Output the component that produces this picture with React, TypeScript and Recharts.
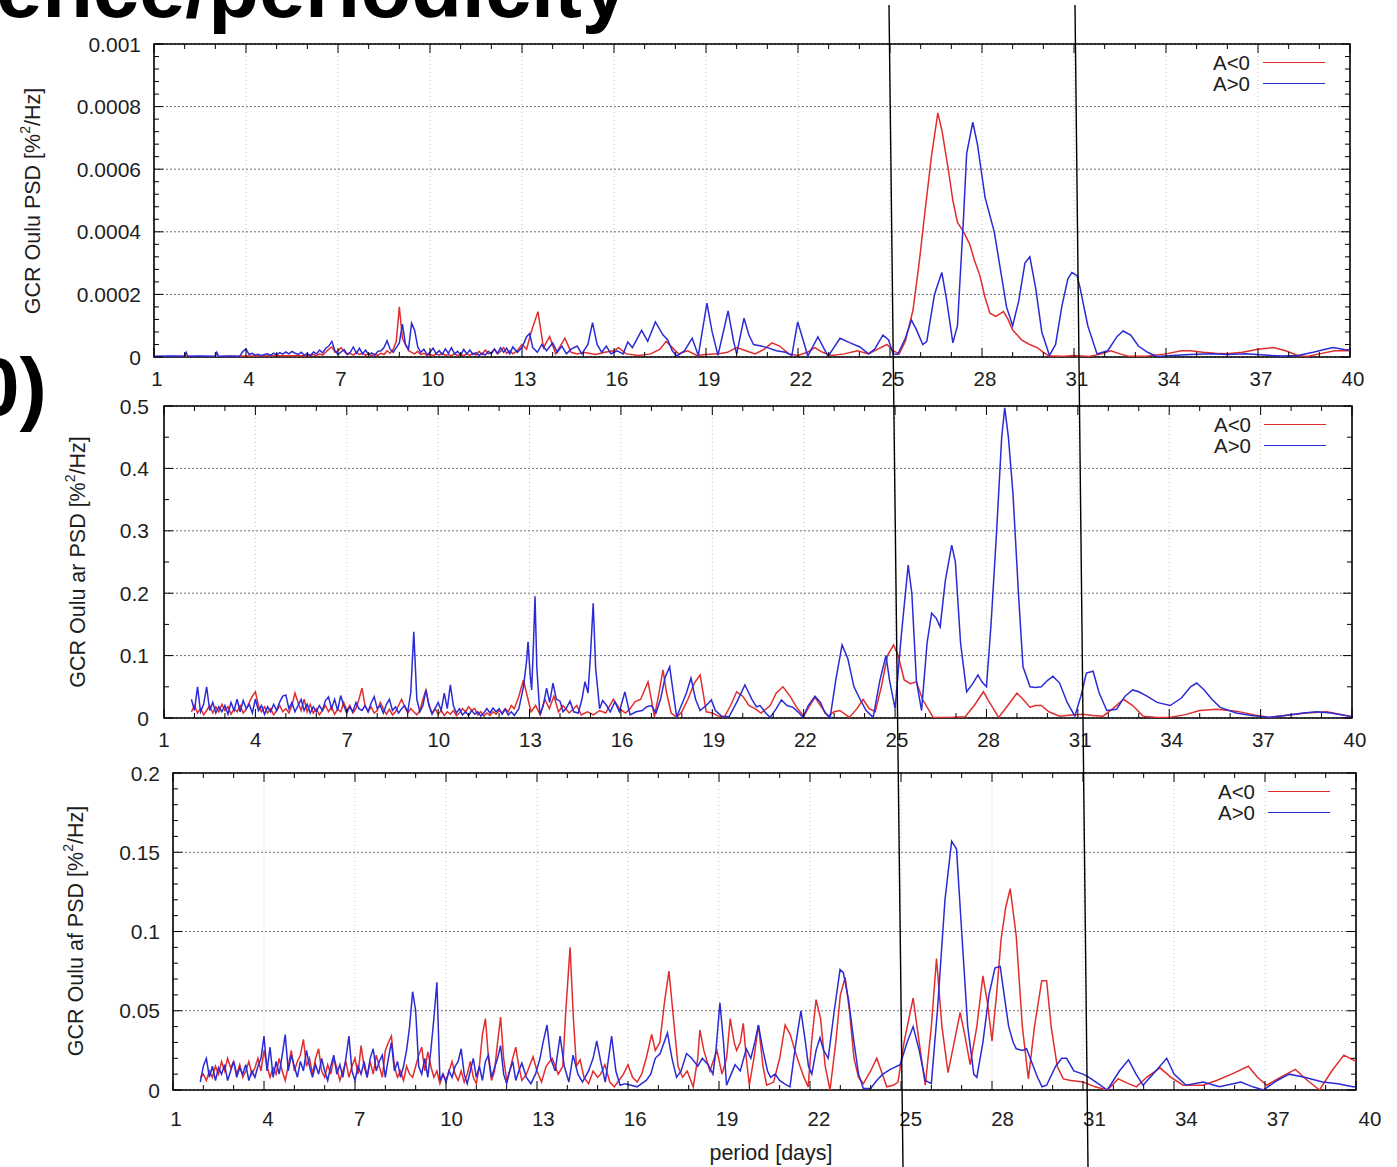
import React from "react";
import { LineChart, Line, XAxis, YAxis, CartesianGrid, ReferenceArea, Legend } from "recharts";

const FONT = '"Liberation Sans", Arial, Helvetica, sans-serif';
const RED = "#e22d2d";
const BLUE = "#2b2bd6";
const INK = "#1e1e1e";

type Pt = [number, number];

// x axis (period in days) and y axis tick labels
const periodTicks = [1, 4, 7, 10, 13, 16, 19, 22, 25, 28, 31, 34, 37, 40];
const psdTicks = [0, 0.0002, 0.0004, 0.0006, 0.0008, 0.001];
const arTicks = [0, 0.1, 0.2, 0.3, 0.4, 0.5];
const afTicks = [0, 0.05, 0.1, 0.15, 0.2];

// ---- panel 1: GCR Oulu PSD, values in units of 1e-5 ----
const psdBlueHead: Pt[] = [[1, 0.2], [1.5, 0.3], [2.0, 0.2], [2.05, 1.5], [2.1, 0.2], [2.5, 0.3], [3.0, 0.2], [3.05, 1.5], [3.1, 0.2], [3.5, 0.3], [3.7, 0.2]];
// every 0.1 day from 3.8
const psdBlueNoise = [
  0.3, 1.8, 2.5, 0.8, 1.2, 0.6, 0.9, 0.4, 0.8, 1.0,
  0.5, 1.2, 0.7, 1.4, 0.9, 1.6, 1.0, 1.8, 1.2, 0.8,
  1.5, 0.6, 1.1, 0.5, 1.6, 1.0, 2.2, 1.3, 2.8, 3.5,
  5.0, 2.0, 0.8, 1.6, 2.4, 0.9, 1.5, 3.2, 1.2, 2.8,
  1.0, 2.2, 0.7, 1.3, 0.6, 1.8, 2.0, 3.0, 5.2, 2.5,
  1.5, 3.0, 4.5, 10.5, 4.0, 2.5, 10.8, 8.5, 3.2, 1.5,
  2.5, 0.8, 1.5, 2.8, 1.0, 2.0, 0.8, 2.6, 1.2, 3.0,
  1.0, 1.8, 0.6, 2.4, 1.0, 2.2, 0.8, 1.4, 0.5, 1.2,
  0.6, 1.8, 1.0, 2.5, 1.2, 3.0, 1.5, 2.8, 1.0, 3.2,
];
const psdBlueTail: Pt[] = [
  [12.85, 1.5], [13.0, 3.0], [13.15, 6.5], [13.25, 7.5], [13.35, 3.0], [13.5, 1.5], [13.65, 4.0], [13.8, 2.0], [14.0, 4.5], [14.15, 1.5],
  [14.3, 3.5], [14.45, 1.0], [14.6, 2.5], [14.8, 3.5], [14.95, 1.0], [15.15, 4.0], [15.3, 11.0], [15.45, 4.0], [15.6, 1.5], [15.75, 3.5],
  [15.9, 1.0], [16.1, 2.0], [16.3, 1.0], [16.45, 4.8], [16.6, 3.0], [16.9, 8.5], [17.1, 5.0], [17.35, 11.2], [17.6, 7.0], [17.75, 5.5],
  [17.9, 2.0], [18.05, 0.3], [18.3, 2.0], [18.55, 6.0], [18.75, 0.5], [19.03, 17.2], [19.2, 8.0], [19.39, 0.5], [19.72, 14.7], [19.9, 5.0],
  [20.0, 1.0], [20.24, 12.4], [20.4, 7.0], [20.55, 4.0], [20.8, 3.5], [21.0, 3.0], [21.3, 2.0], [21.6, 1.5], [21.8, 0.5], [21.99, 11.2],
  [22.15, 6.0], [22.32, 0.3], [22.65, 6.4], [22.98, 0.2], [23.37, 6.0], [23.7, 4.5], [24.02, 3.2], [24.3, 1.0], [24.5, 2.5], [24.77, 7.0],
  [24.95, 5.5], [25.1, 1.0], [25.25, 0.8], [25.5, 6.0], [25.7, 11.8], [25.85, 9.0], [26.07, 4.0], [26.2, 5.0], [26.45, 20], [26.69, 27],
  [26.85, 18], [27.05, 4.5], [27.2, 10], [27.4, 45], [27.5, 65], [27.7, 75], [27.85, 68], [28.1, 51], [28.4, 40], [28.6, 28],
  [28.8, 16], [29.0, 10], [29.2, 18], [29.4, 30], [29.56, 32], [29.75, 22], [29.95, 8], [30.2, 0.5], [30.4, 4], [30.6, 16],
  [30.8, 25], [30.93, 27], [31.1, 26], [31.2, 22], [31.45, 10], [31.75, 1.0], [32.1, 2.0], [32.4, 6.5], [32.6, 8.3], [32.85, 7.0],
  [33.1, 3.5], [33.4, 1.5], [33.7, 0.2], [34.2, 0.5], [34.8, 0.8], [35.5, 1.0], [36.0, 0.8], [36.6, 1.0], [37.2, 0.6], [37.8, 0.3],
  [38.3, 0.5], [38.8, 1.5], [39.2, 2.5], [39.45, 3.0], [39.8, 2.4], [40, 2.2],
];
const psdRedHead: Pt[] = [[1, 0.1], [2, 0.2], [3, 0.1], [4, 0.3], [5, 0.4], [5.9, 0.4]];
// every 0.1 day from 6.0
const psdRedNoise = [
  0.3, 0.5, 0.8, 0.4, 1.0, 0.6, 1.5, 2.5, 3.2, 1.5,
  2.0, 3.0, 1.8, 0.8, 1.2, 0.6, 1.5, 0.8, 1.2, 0.5,
  1.0, 0.4, 0.9, 0.5, 1.2, 0.8, 2.0, 1.2, 2.5, 5.0,
  16.0, 6.0, 4.0, 2.0, 1.5, 1.0, 1.8, 0.8, 1.2, 0.5,
  0.9, 0.4, 1.0, 0.6, 1.2, 0.5, 0.8, 0.4, 1.0, 0.5,
  0.8, 0.4, 1.0, 0.5, 1.2, 0.6, 1.8, 0.8, 2.2, 1.0,
  1.5, 2.5, 1.0, 1.8, 3.0, 1.2, 2.0, 1.0,
];
const psdRedTail: Pt[] = [
  [12.85, 2.0], [13.0, 4.0], [13.15, 2.5], [13.3, 8.0], [13.52, 14.5], [13.7, 3.0], [13.9, 6.5], [14.1, 1.0], [14.4, 6.0], [14.6, 1.5],
  [14.8, 1.0], [15.0, 1.5], [15.4, 0.8], [15.7, 1.5], [16.0, 2.0], [16.15, 3.0], [16.4, 1.0], [16.8, 0.5], [17.2, 1.0], [17.5, 2.5],
  [17.7, 5.0], [17.9, 3.0], [18.1, 1.0], [18.4, 2.0], [18.7, 0.5], [19.0, 0.8], [19.4, 1.0], [19.7, 1.5], [20.0, 3.0], [20.3, 2.0],
  [20.6, 1.0], [20.9, 2.5], [21.15, 4.5], [21.4, 3.5], [21.7, 1.0], [22.0, 0.5], [22.3, 1.5], [22.55, 3.0], [22.8, 1.5], [23.1, 0.5],
  [23.5, 1.0], [23.95, 2.0], [24.3, 1.0], [24.6, 2.5], [24.9, 4.0], [25.1, 2.0], [25.3, 1.0], [25.5, 5.0], [25.75, 15], [25.95, 30],
  [26.1, 43], [26.35, 64], [26.56, 78], [26.7, 72], [26.9, 60], [27.05, 50], [27.2, 43], [27.4, 40], [27.6, 36], [27.75, 31],
  [27.93, 26], [28.1, 19], [28.26, 14], [28.45, 13], [28.7, 14.5], [28.85, 12], [29.0, 8.6], [29.3, 5.4], [29.55, 4.0], [29.8, 3.0],
  [30.0, 1.5], [30.2, 0.3], [30.6, 0.2], [31.0, 0.5], [31.5, 0.2], [31.9, 1.0], [32.2, 2.0], [32.5, 1.0], [32.8, 0.2], [33.4, 0.3],
  [34.0, 1.0], [34.5, 2.0], [34.8, 2.0], [35.2, 1.5], [35.6, 1.2], [36.0, 1.0], [36.5, 1.5], [37.0, 2.5], [37.5, 3.0], [37.9, 2.0],
  [38.3, 0.5], [38.6, 0.2], [39.0, 1.0], [39.5, 2.0], [40, 2.0],
];

// ---- panel 2: GCR Oulu ar PSD ----
// every 0.1 day from 1.9
const arBlueNoise = [
  0.030, 0.012, 0.050, 0.010, 0.022, 0.050, 0.012, 0.025, 0.008, 0.018,
  0.010, 0.020, 0.006, 0.025, 0.012, 0.030, 0.010, 0.028, 0.015, 0.022,
  0.008, 0.030, 0.012, 0.020, 0.006, 0.018, 0.010, 0.022, 0.012, 0.026,
  0.035, 0.037, 0.015, 0.025, 0.010, 0.020, 0.030, 0.012, 0.022, 0.008,
  0.018, 0.010, 0.020, 0.012, 0.028, 0.034, 0.015, 0.030, 0.012, 0.036,
  0.020, 0.008, 0.018, 0.010, 0.025, 0.015, 0.012, 0.020, 0.010, 0.024,
  0.034, 0.015, 0.020, 0.008, 0.022, 0.030, 0.012, 0.018, 0.008, 0.015,
  0.020, 0.010, 0.040, 0.138, 0.030, 0.010, 0.020, 0.045, 0.020, 0.006,
  0.015, 0.025, 0.012, 0.040, 0.015, 0.053, 0.020, 0.008, 0.015, 0.005,
  0.010, 0.004, 0.012, 0.006, 0.010, 0.003, 0.008, 0.015, 0.008, 0.016,
  0.010, 0.015, 0.006, 0.014, 0.005, 0.010, 0.004,
];
const arBlueTail: Pt[] = [
  [12.65, 0.015], [12.8, 0.05], [12.9, 0.09], [12.95, 0.122], [13.02, 0.07], [13.07, 0.045], [13.13, 0.12], [13.18, 0.195], [13.24, 0.08], [13.34, 0.005],
  [13.45, 0.02], [13.56, 0.048], [13.66, 0.025], [13.77, 0.056], [13.88, 0.03], [14.0, 0.027], [14.1, 0.01], [14.2, 0.015], [14.33, 0.027], [14.45, 0.01],
  [14.6, 0.008], [14.72, 0.03], [14.82, 0.058], [14.92, 0.04], [15.0, 0.1], [15.09, 0.184], [15.17, 0.08], [15.3, 0.015], [15.4, 0.028], [15.53, 0.02],
  [15.65, 0.01], [15.8, 0.026], [15.95, 0.01], [16.13, 0.042], [16.3, 0.005], [16.5, 0.01], [16.7, 0.012], [16.85, 0.018], [17.0, 0.02], [17.15, 0.008],
  [17.3, 0.03], [17.45, 0.065], [17.6, 0.082], [17.72, 0.04], [17.83, 0.002], [18.0, 0.022], [18.15, 0.04], [18.3, 0.064], [18.45, 0.03], [18.6, 0.012],
  [18.8, 0.02], [18.97, 0.029], [19.1, 0.012], [19.3, 0.003], [19.55, 0.002], [19.8, 0.025], [20.07, 0.053], [20.2, 0.04], [20.3, 0.03], [20.45, 0.018],
  [20.57, 0.02], [20.75, 0.008], [20.9, 0.001], [21.1, 0.015], [21.27, 0.029], [21.45, 0.02], [21.65, 0.017], [21.85, 0.008], [21.98, 0.001], [22.15, 0.02],
  [22.37, 0.035], [22.55, 0.025], [22.7, 0.008], [22.87, 0.001], [23.05, 0.06], [23.26, 0.117], [23.45, 0.095], [23.65, 0.05], [23.85, 0.03], [24.05, 0.012],
  [24.28, 0.001], [24.5, 0.06], [24.7, 0.1], [24.82, 0.06], [25.0, 0.015], [25.2, 0.13], [25.43, 0.245], [25.55, 0.2], [25.7, 0.06], [25.87, 0.012],
  [26.05, 0.12], [26.2, 0.168], [26.35, 0.16], [26.48, 0.146], [26.65, 0.22], [26.86, 0.277], [26.98, 0.25], [27.15, 0.12], [27.35, 0.042], [27.55, 0.055],
  [27.72, 0.069], [27.85, 0.058], [28.0, 0.05], [28.15, 0.15], [28.33, 0.296], [28.5, 0.45], [28.6, 0.497], [28.72, 0.45], [28.87, 0.36], [29.05, 0.2],
  [29.2, 0.082], [29.43, 0.05], [29.6, 0.049], [29.8, 0.05], [30.0, 0.06], [30.18, 0.067], [30.4, 0.056], [30.65, 0.025], [30.9, 0.003], [31.1, 0.035],
  [31.28, 0.072], [31.5, 0.075], [31.7, 0.04], [31.95, 0.012], [32.27, 0.014], [32.55, 0.035], [32.8, 0.045], [33.0, 0.042], [33.27, 0.035], [33.6, 0.025],
  [34.03, 0.02], [34.4, 0.032], [34.7, 0.05], [34.9, 0.056], [35.15, 0.045], [35.4, 0.03], [35.67, 0.017], [36.2, 0.008], [36.7, 0.004], [37.3, 0.001],
  [37.8, 0.004], [38.4, 0.008], [38.84, 0.01], [39.3, 0.008], [39.9, 0.003], [40, 0.002],
];
const arRedNoise = [
  0.010, 0.020, 0.008, 0.015, 0.005, 0.012, 0.020, 0.008, 0.018, 0.010,
  0.022, 0.012, 0.018, 0.006, 0.015, 0.010, 0.020, 0.008, 0.014, 0.025,
  0.035, 0.042, 0.020, 0.010, 0.018, 0.008, 0.015, 0.005, 0.012, 0.020,
  0.010, 0.015, 0.008, 0.020, 0.040, 0.025, 0.012, 0.030, 0.010, 0.022,
  0.008, 0.015, 0.005, 0.012, 0.020, 0.010, 0.018, 0.006, 0.014, 0.010,
  0.025, 0.012, 0.020, 0.008, 0.015, 0.030, 0.048, 0.020, 0.010, 0.018,
  0.008, 0.012, 0.025, 0.015, 0.006, 0.014, 0.005, 0.010, 0.020, 0.030,
  0.018, 0.008, 0.015, 0.010, 0.005, 0.012, 0.030, 0.045, 0.020, 0.008,
  0.015, 0.006, 0.012, 0.004, 0.010, 0.006, 0.012, 0.004, 0.008, 0.015,
  0.010, 0.018, 0.012, 0.015, 0.005, 0.010, 0.003, 0.008, 0.004, 0.010,
  0.006, 0.012, 0.008, 0.015, 0.010, 0.020, 0.015,
];
const arRedTail: Pt[] = [
  [12.65, 0.035], [12.8, 0.061], [12.9, 0.04], [13.05, 0.01], [13.2, 0.02], [13.35, 0.005], [13.5, 0.03], [13.65, 0.015], [13.8, 0.035], [13.95, 0.01],
  [14.1, 0.02], [14.3, 0.008], [14.55, 0.02], [14.7, 0.005], [14.9, 0.01], [15.1, 0.005], [15.3, 0.012], [15.5, 0.008], [15.75, 0.03], [15.95, 0.015],
  [16.15, 0.008], [16.3, 0.015], [16.46, 0.026], [16.65, 0.03], [16.89, 0.058], [17.0, 0.03], [17.1, 0.002], [17.25, 0.04], [17.38, 0.077], [17.5, 0.04],
  [17.65, 0.008], [17.83, 0.001], [18.0, 0.01], [18.2, 0.03], [18.4, 0.055], [18.6, 0.069], [18.7, 0.04], [18.8, 0.01], [19.0, 0.008], [19.2, 0.003],
  [19.4, 0.002], [19.6, 0.02], [19.8, 0.042], [20.0, 0.035], [20.2, 0.02], [20.4, 0.015], [20.6, 0.008], [20.9, 0.02], [21.1, 0.04], [21.32, 0.05],
  [21.55, 0.035], [21.77, 0.017], [22.0, 0.003], [22.2, 0.02], [22.37, 0.033], [22.55, 0.02], [22.8, 0.003], [23.0, 0.01], [23.19, 0.012], [23.5, 0.001],
  [23.75, 0.015], [23.95, 0.03], [24.15, 0.015], [24.35, 0.01], [24.55, 0.05], [24.75, 0.1], [24.95, 0.117], [25.1, 0.1], [25.3, 0.061], [25.5, 0.055],
  [25.7, 0.058], [25.9, 0.03], [26.25, 0.001], [26.8, 0.001], [27.3, 0.002], [27.6, 0.02], [27.9, 0.042], [28.1, 0.025], [28.4, 0.001], [28.7, 0.02],
  [29.0, 0.04], [29.2, 0.03], [29.43, 0.017], [29.6, 0.02], [29.8, 0.02], [30.05, 0.01], [30.4, 0.003], [30.8, 0.005], [31.17, 0.006], [31.5, 0.004],
  [31.83, 0.003], [32.15, 0.015], [32.5, 0.03], [32.8, 0.02], [33.14, 0.003], [33.6, 0.001], [34.0, 0.001], [34.5, 0.005], [35.0, 0.012], [35.55, 0.014],
  [36.2, 0.011], [36.8, 0.005], [37.3, 0.001], [37.8, 0.004], [38.5, 0.008], [39.17, 0.01], [39.6, 0.006], [40, 0.002],
];

// ---- panel 3: GCR Oulu af PSD ----
const afBlueNoise = [
  0.005, 0.015, 0.020, 0.008, 0.015, 0.006, 0.014, 0.010, 0.016, 0.006,
  0.012, 0.018, 0.008, 0.014, 0.010, 0.016, 0.006, 0.012, 0.008, 0.015,
  0.020, 0.034, 0.012, 0.027, 0.008, 0.018, 0.010, 0.022, 0.035, 0.012,
  0.022, 0.015, 0.008, 0.018, 0.012, 0.025, 0.015, 0.008, 0.016, 0.010,
  0.020, 0.012, 0.006, 0.015, 0.022, 0.010, 0.016, 0.008, 0.020, 0.034,
  0.012, 0.006, 0.015, 0.010, 0.018, 0.008, 0.020, 0.026, 0.012, 0.018,
  0.022, 0.008, 0.020, 0.030, 0.012, 0.018, 0.008, 0.015, 0.025, 0.040,
  0.062, 0.050, 0.015, 0.010, 0.020, 0.008, 0.025, 0.045, 0.068, 0.006,
  0.010, 0.005, 0.012, 0.008, 0.015, 0.018, 0.026, 0.010, 0.004, 0.012,
  0.020, 0.008, 0.015, 0.006, 0.018, 0.022, 0.008, 0.014, 0.020, 0.028,
  0.010, 0.004, 0.012, 0.018, 0.006, 0.012, 0.017,
];
const afBlueTail: Pt[] = [
  [12.65, 0.008], [12.8, 0.004], [12.95, 0.01], [13.1, 0.02], [13.2, 0.03], [13.33, 0.041], [13.45, 0.02], [13.6, 0.012], [13.76, 0.034], [13.9, 0.015],
  [14.05, 0.005], [14.19, 0.022], [14.35, 0.01], [14.5, 0.005], [14.7, 0.012], [14.85, 0.02], [14.97, 0.031], [15.1, 0.018], [15.25, 0.005], [15.46, 0.034],
  [15.6, 0.012], [15.74, 0.003], [15.9, 0.004], [16.1, 0.003], [16.3, 0.002], [16.45, 0.004], [16.6, 0.006], [16.75, 0.01], [16.9, 0.02], [17.06, 0.023],
  [17.3, 0.036], [17.45, 0.02], [17.6, 0.008], [17.75, 0.012], [17.93, 0.023], [18.1, 0.02], [18.3, 0.015], [18.45, 0.02], [18.64, 0.016], [18.8, 0.01],
  [18.9, 0.025], [19.03, 0.055], [19.15, 0.03], [19.25, 0.003], [19.4, 0.01], [19.53, 0.016], [19.7, 0.012], [19.9, 0.026], [20.05, 0.02], [20.18, 0.03],
  [20.3, 0.041], [20.45, 0.025], [20.6, 0.012], [20.7, 0.008], [20.85, 0.01], [21.0, 0.006], [21.15, 0.004], [21.34, 0.002], [21.5, 0.025], [21.7, 0.05],
  [21.85, 0.03], [21.95, 0.015], [22.06, 0.01], [22.2, 0.025], [22.33, 0.033], [22.45, 0.025], [22.6, 0.02], [22.8, 0.05], [22.99, 0.076], [23.1, 0.074],
  [23.27, 0.057], [23.45, 0.03], [23.6, 0.01], [23.76, 0.001], [24.0, 0.001], [24.2, 0.006], [24.4, 0.01], [24.65, 0.013], [24.97, 0.016], [25.2, 0.03],
  [25.4, 0.04], [25.6, 0.025], [25.8, 0.006], [26.0, 0.004], [26.2, 0.05], [26.45, 0.12], [26.67, 0.157], [26.83, 0.152], [27.0, 0.1], [27.2, 0.04],
  [27.4, 0.01], [27.5, 0.008], [27.7, 0.03], [27.9, 0.06], [28.1, 0.077], [28.27, 0.078], [28.4, 0.06], [28.55, 0.04], [28.7, 0.03], [28.8, 0.026],
  [29.0, 0.025], [29.14, 0.026], [29.3, 0.018], [29.5, 0.008], [29.65, 0.002], [29.8, 0.003], [30.1, 0.015], [30.3, 0.02], [30.46, 0.02], [30.7, 0.012],
  [31.0, 0.01], [31.2, 0.008], [31.5, 0.004], [31.8, 0.0], [32.2, 0.012], [32.5, 0.019], [32.75, 0.01], [32.98, 0.003], [33.4, 0.012], [33.76, 0.02],
  [34.0, 0.01], [34.4, 0.003], [34.96, 0.005], [35.5, 0.002], [36.2, 0.005], [36.6, 0.002], [36.94, 0.0], [37.4, 0.006], [37.8, 0.01], [38.3, 0.008],
  [38.9, 0.005], [39.4, 0.004], [39.9, 0.002], [40, 0.002],
];
const afRedNoise = [
  0.008, 0.010, 0.006, 0.012, 0.008, 0.015, 0.010, 0.018, 0.012, 0.020,
  0.014, 0.018, 0.010, 0.016, 0.008, 0.012, 0.018, 0.010, 0.014, 0.020,
  0.012, 0.025, 0.015, 0.008, 0.014, 0.010, 0.020, 0.012, 0.006, 0.015,
  0.025, 0.012, 0.018, 0.022, 0.032, 0.015, 0.020, 0.010, 0.020, 0.026,
  0.012, 0.008, 0.016, 0.010, 0.020, 0.014, 0.006, 0.012, 0.018, 0.008,
  0.015, 0.020, 0.010, 0.028, 0.015, 0.008, 0.018, 0.010, 0.022, 0.015,
  0.008, 0.025, 0.030, 0.034, 0.015, 0.008, 0.012, 0.006, 0.015, 0.010,
  0.008, 0.015, 0.022, 0.027, 0.012, 0.024, 0.015, 0.008, 0.012, 0.004,
  0.010, 0.006, 0.012, 0.018, 0.010, 0.006, 0.012, 0.005, 0.010, 0.018,
  0.008, 0.004, 0.015, 0.035, 0.045, 0.020, 0.006, 0.012, 0.030, 0.046,
  0.020, 0.006, 0.012, 0.020, 0.027, 0.015, 0.006,
];
const afRedTail: Pt[] = [
  [12.65, 0.01], [12.87, 0.021], [13.0, 0.012], [13.15, 0.005], [13.3, 0.015], [13.5, 0.02], [13.7, 0.01], [13.85, 0.015], [13.95, 0.05], [14.09, 0.09],
  [14.2, 0.045], [14.3, 0.015], [14.42, 0.019], [14.55, 0.008], [14.7, 0.004], [14.85, 0.012], [15.0, 0.008], [15.1, 0.01], [15.24, 0.016], [15.4, 0.005],
  [15.55, 0.002], [15.7, 0.006], [15.85, 0.01], [16.0, 0.016], [16.15, 0.008], [16.3, 0.005], [16.45, 0.01], [16.6, 0.02], [16.78, 0.035], [16.9, 0.025],
  [17.05, 0.03], [17.2, 0.055], [17.35, 0.075], [17.5, 0.045], [17.65, 0.015], [17.8, 0.008], [17.95, 0.012], [18.15, 0.002], [18.3, 0.02], [18.37, 0.038],
  [18.5, 0.025], [18.7, 0.012], [18.93, 0.025], [19.1, 0.01], [19.25, 0.02], [19.37, 0.045], [19.5, 0.03], [19.58, 0.025], [19.7, 0.03], [19.8, 0.042],
  [19.9, 0.02], [20.0, 0.003], [20.15, 0.02], [20.3, 0.041], [20.45, 0.015], [20.57, 0.003], [20.8, 0.005], [21.0, 0.02], [21.18, 0.041], [21.35, 0.035],
  [21.5, 0.025], [21.67, 0.015], [21.8, 0.008], [21.94, 0.002], [22.05, 0.03], [22.2, 0.057], [22.35, 0.045], [22.5, 0.015], [22.66, 0.0], [22.85, 0.03],
  [23.0, 0.06], [23.16, 0.071], [23.3, 0.05], [23.45, 0.02], [23.6, 0.008], [23.76, 0.004], [24.0, 0.012], [24.2, 0.02], [24.35, 0.012], [24.53, 0.002],
  [24.75, 0.003], [24.9, 0.005], [25.1, 0.03], [25.4, 0.058], [25.6, 0.03], [25.8, 0.003], [26.0, 0.04], [26.17, 0.083], [26.35, 0.04], [26.55, 0.011],
  [26.7, 0.025], [26.95, 0.049], [27.1, 0.035], [27.28, 0.016], [27.5, 0.04], [27.7, 0.072], [27.85, 0.055], [28.0, 0.031], [28.15, 0.06], [28.3, 0.095],
  [28.45, 0.115], [28.6, 0.127], [28.8, 0.097], [29.0, 0.04], [29.2, 0.007], [29.4, 0.04], [29.64, 0.069], [29.8, 0.069], [29.95, 0.04], [30.15, 0.015],
  [30.35, 0.007], [30.6, 0.006], [31.0, 0.005], [31.4, 0.002], [31.8, 0.0], [32.16, 0.007], [32.5, 0.004], [32.76, 0.002], [33.1, 0.008], [33.54, 0.014],
  [33.9, 0.008], [34.3, 0.003], [34.96, 0.003], [35.4, 0.006], [35.9, 0.01], [36.45, 0.015], [36.75, 0.008], [37.06, 0.003], [37.5, 0.008], [38.0, 0.013],
  [38.4, 0.006], [38.8, 0.0], [39.2, 0.012], [39.6, 0.022], [39.9, 0.019], [40, 0.018],
];

const grid = (start: number, values: number[]): Pt[] =>
  values.map((v, i) => [Math.round((start + i * 0.1) * 100) / 100, v]);
const rows = (pts: Pt[], scale = 1) => pts.map(([x, y]) => ({ x, y: y * scale }));

// majors plus evenly spaced minor ticks between them
const subdivide = (majors: number[], n: number) => {
  const out: number[] = [];
  majors.forEach((m, i) => {
    out.push(m);
    if (i < majors.length - 1) for (let k = 1; k < n; k++) out.push(m + ((majors[i + 1] - m) * k) / n);
  });
  return out;
};

type Panel = {
  top: number; height: number; plotTop: number; plotBottom: number; left: number; right: number;
  yMax: number; yTicks: number[]; yMinor: number; yGap: number;
  title: string; titleX: number; titleY: number;
  xGap: number; xOff: [number, number]; legendEnd: number; xTitle?: string;
  red: { x: number; y: number }[]; blue: { x: number; y: number }[];
};

const panels: Panel[] = [
  {
    top: 34, height: 360, plotTop: 44, plotBottom: 357, left: 154, right: 1350,
    yMax: 0.001, yTicks: psdTicks, yMinor: 5, yGap: 13,
    title: "GCR Oulu PSD", titleX: 33, titleY: 201,
    xGap: 21, xOff: [3, 3], legendEnd: 1325,
    red: rows([...psdRedHead, ...grid(6.0, psdRedNoise), ...psdRedTail], 1e-5),
    blue: rows([...psdBlueHead, ...grid(3.8, psdBlueNoise), ...psdBlueTail], 1e-5),
  },
  {
    top: 396, height: 358, plotTop: 406, plotBottom: 718, left: 164, right: 1352,
    yMax: 0.5, yTicks: arTicks, yMinor: 2, yGap: 15,
    title: "GCR Oulu ar PSD", titleX: 78, titleY: 562,
    xGap: 21, xOff: [0, 3], legendEnd: 1326,
    red: rows([...grid(1.9, arRedNoise), ...arRedTail]),
    blue: rows([...grid(1.9, arBlueNoise), ...arBlueTail]),
  },
  {
    top: 763, height: 404, plotTop: 773, plotBottom: 1090, left: 173, right: 1356,
    yMax: 0.2, yTicks: afTicks, yMinor: 5, yGap: 13,
    title: "GCR Oulu af PSD", titleX: 76, titleY: 931,
    xGap: 28, xOff: [3, 14], legendEnd: 1330, xTitle: "period [days]",
    red: rows([...grid(1.9, afRedNoise), ...afRedTail]),
    blue: rows([...grid(1.9, afBlueNoise), ...afBlueTail]),
  },
];

const tickStyle = { fontFamily: FONT, fontSize: 20.5, fill: INK };
const titleStyle = { fontFamily: FONT, fontSize: 21.5, fill: INK };

function PsdPanel({ p }: { p: Panel }) {
  const pt = p.plotTop - p.top;
  const pb = p.plotBottom - p.top;
  const xAll = subdivide(periodTicks, 3);
  const yAll = subdivide(p.yTicks, p.yMinor);

  const xTick = (props: any) => {
    const v = props.payload.value;
    const cx = props.x;
    const major = periodTicks.includes(v);
    const len = major ? 9 : 5;
    const off = p.xOff[0] + ((v - 1) / 39) * (p.xOff[1] - p.xOff[0]);
    return (
      <g>
        <line x1={cx} x2={cx} y1={pb} y2={pb - len} stroke="#000" />
        <line x1={cx} x2={cx} y1={pt} y2={pt + len} stroke="#000" />
        {major && (
          <text x={cx + off} y={pb + p.xGap} textAnchor="middle" dominantBaseline="central" style={tickStyle}>
            {v}
          </text>
        )}
      </g>
    );
  };

  const yTick = (props: any) => {
    const v = props.payload.value;
    const cy = props.y;
    const major = p.yTicks.includes(v);
    const len = major ? 9 : 5;
    return (
      <g>
        <line x1={p.left} x2={p.left + len} y1={cy} y2={cy} stroke="#000" />
        <line x1={p.right - len} x2={p.right} y1={cy} y2={cy} stroke="#000" />
        {major && (
          <text x={p.left - p.yGap} y={cy} textAnchor="end" dominantBaseline="central" style={{ ...tickStyle, fontSize: 21 }}>
            {String(v)}
          </text>
        )}
      </g>
    );
  };

  const yTitle = () => {
    const y = p.titleY - p.top;
    return (
      <text
        x={p.titleX}
        y={y}
        transform={`rotate(-90 ${p.titleX} ${y})`}
        textAnchor="middle"
        dominantBaseline="central"
        style={titleStyle}
      >
        {p.title} [%<tspan dy={-8} fontSize={14}>2</tspan>
        <tspan dy={8}>/Hz]</tspan>
      </text>
    );
  };

  const xTitle = () =>
    p.xTitle ? (
      <text x={771} y={1153 - p.top} textAnchor="middle" dominantBaseline="central" style={titleStyle}>
        {p.xTitle}
      </text>
    ) : null;

  const legend = (props: any) => (
    <div style={{ fontFamily: FONT, fontSize: 20.5, color: INK }}>
      {(props.payload || []).map((e: any) => (
        <div key={e.value} style={{ display: "flex", justifyContent: "flex-end", alignItems: "center", height: 21 }}>
          <span>{e.value}</span>
          <span style={{ display: "inline-block", width: 62, height: 1.5, marginLeft: 13, background: e.color }} />
        </div>
      ))}
    </div>
  );

  return (
    <div style={{ position: "absolute", left: 0, top: p.top }}>
      <LineChart
        width={1397}
        height={p.height}
        margin={{ top: pt, right: 1397 - p.right, bottom: 0, left: 0 }}
      >
        <CartesianGrid horizontal={false} verticalValues={periodTicks} stroke="#c2c2c2" strokeDasharray="1 3" />
        <CartesianGrid vertical={false} horizontalValues={p.yTicks} stroke="#707070" strokeDasharray="2 2" />
        <XAxis
          dataKey="x"
          type="number"
          domain={[1, 40]}
          ticks={xAll}
          interval={0}
          allowDataOverflow
          tickLine={false}
          axisLine={false}
          height={p.height - pb}
          tick={xTick}
          label={xTitle}
        />
        <YAxis
          type="number"
          domain={[0, p.yMax]}
          ticks={yAll}
          interval={0}
          allowDataOverflow
          tickLine={false}
          axisLine={false}
          width={p.left}
          tick={yTick}
          label={yTitle}
        />
        <Line data={p.red} dataKey="y" name="A<0" type="linear" stroke={RED} strokeWidth={1.5} dot={false} isAnimationActive={false} />
        <Line data={p.blue} dataKey="y" name="A>0" type="linear" stroke={BLUE} strokeWidth={1.5} dot={false} isAnimationActive={false} />
        <ReferenceArea x1={1} x2={40} y1={0} y2={p.yMax} fill="none" stroke="#000" strokeWidth={1.6} ifOverflow="visible" />
        <Legend
          layout="horizontal"
          verticalAlign="middle"
          align="center"
          wrapperStyle={{ top: pt + 8, left: p.legendEnd - 160, width: 160 }}
          content={legend}
        />
      </LineChart>
    </div>
  );
}

export default function App() {
  return (
    <div style={{ position: "absolute", left: 0, top: 0, width: 1397, height: 1167, background: "#fff", overflow: "hidden" }}>
      {panels.map((p, i) => (
        <PsdPanel key={i} p={p} />
      ))}
      <svg width={1397} height={1167} style={{ position: "absolute", left: 0, top: 0, pointerEvents: "none" }}>
        <text x={-4} y={17} fontSize={83} fontWeight="bold" fontFamily={FONT} fill="#000">
          ence/periodicity
        </text>
        <text x={-26} y={415} fontSize={82} fontWeight="bold" fontFamily={FONT} fill="#000">
          0)
        </text>
        <line x1={889} y1={5} x2={903} y2={1167} stroke="#000" strokeWidth={1.4} />
        <line x1={1075} y1={5} x2={1088} y2={1167} stroke="#000" strokeWidth={1.4} />
      </svg>
    </div>
  );
}
